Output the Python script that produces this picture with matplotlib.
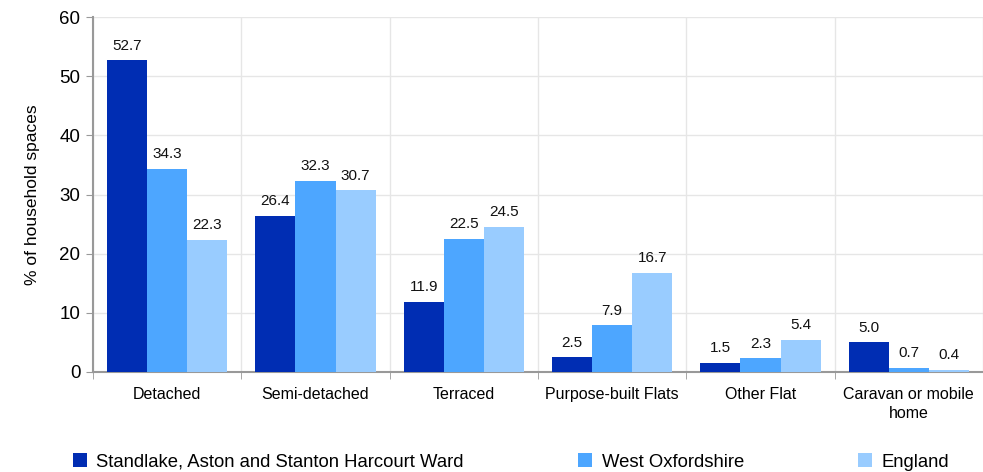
import matplotlib.pyplot as plt
import numpy as np

plt.rcParams['font.family'] = ['Liberation Sans', 'DejaVu Sans']

categories = ["Detached", "Semi-detached", "Terraced", "Purpose-built Flats",
              "Other Flat", "Caravan or mobile\nhome"]
series = ["Standlake, Aston and Stanton Harcourt Ward", "West Oxfordshire", "England"]
ward = [52.7, 26.4, 11.9, 2.5, 1.5, 5.0]
west_ox = [34.3, 32.3, 22.5, 7.9, 2.3, 0.7]
england = [22.3, 30.7, 24.5, 16.7, 5.4, 0.4]
colors = ["#002db3", "#4da6ff", "#99ccff"]

fig = plt.figure(figsize=(9.83, 4.72), dpi=100)
ax = fig.add_axes([93 / 983, 1 - 372 / 472, 890 / 983, 355 / 472])

x = np.arange(len(categories))
w = 0.27
for i, (vals, name) in enumerate(zip([ward, west_ox, england], series)):
    bars = ax.bar(x + (i - 1) * w, vals, w, color=colors[i], label=name, zorder=3)
    for b, v in zip(bars, vals):
        ax.text(b.get_x() + b.get_width() / 2, v + 1.3, f"{v:.1f}",
                ha="center", va="bottom", fontsize=11, color="#111111")

ax.set_xlim(-0.5, len(categories) - 0.5)
ax.set_ylim(0, 60)
ax.set_yticks(range(0, 61, 10))
ax.tick_params(axis="y", labelsize=13.5, length=5, color="#999999", pad=4)
ax.set_xticks(x)
ax.set_xticklabels(categories, fontsize=11.5, linespacing=1.3)
ax.tick_params(axis="x", length=0, pad=11)
ax.set_xticks(np.arange(-0.5, len(categories), 1), minor=True)
ax.tick_params(axis="x", which="minor", length=5, color="#999999")
ax.grid(axis="y", color="#e6e6e6", lw=1, zorder=0)
ax.grid(axis="x", which="minor", color="#e6e6e6", lw=1, zorder=0)
for s in ["top", "right"]:
    ax.spines[s].set_visible(False)
for s in ["left", "bottom"]:
    ax.spines[s].set_color("#999999")
    ax.spines[s].set_linewidth(1.5)
ax.set_ylabel("% of household spaces", fontsize=12.5, labelpad=14)

fig.legend(loc="center", bbox_to_anchor=(0.52, 1 - 462 / 472), ncol=3, frameon=False,
           fontsize=13.3, handlelength=0.75, handleheight=0.75, handletextpad=0.5,
           columnspacing=6.2, borderpad=0)

fig.savefig("out.png", dpi=100)
